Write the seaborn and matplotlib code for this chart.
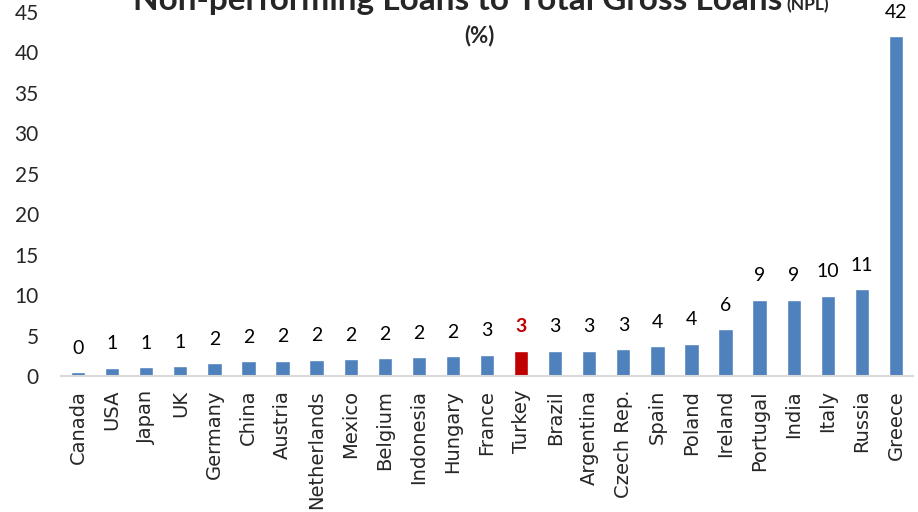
import matplotlib
matplotlib.use("Agg")
import matplotlib.pyplot as plt
import seaborn as sns

countries = ["Canada", "USA", "Japan", "UK", "Germany", "China", "Austria",
             "Netherlands", "Mexico", "Belgium", "Indonesia", "Hungary",
             "France", "Turkey", "Brazil", "Argentina", "Czech Rep.", "Spain",
             "Poland", "Ireland", "Portugal", "India", "Italy", "Russia", "Greece"]
npl = [0.46, 1.0, 1.1, 1.2, 1.6, 1.85, 1.9, 2.0, 2.05, 2.2, 2.3, 2.45,
       2.6, 3.1, 3.1, 3.1, 3.3, 3.7, 4.0, 5.8, 9.4, 9.4, 9.9, 10.7, 42.0]
highlight = "Turkey"

BLUE = "#4F81BD"
RED = "#C00000"

sns.set_style("white")
plt.rcParams["font.family"] = ["Lato", "DejaVu Sans"]

fig = plt.figure(figsize=(9.18, 5.12), dpi=100)
ax = fig.add_axes([61 / 918, 1 - 376 / 512, 852 / 918, 364 / 512])

palette = {c: (RED if c == highlight else BLUE) for c in countries}
sns.barplot(x=countries, y=npl, hue=countries, palette=palette, legend=False,
            width=0.42, saturation=1, ax=ax)

for i, (c, v) in enumerate(zip(countries, npl)):
    hot = c == highlight
    ax.annotate(f"{round(v):d}", (i, v), xytext=(0, 24), textcoords="offset pixels",
                ha="center", va="center", fontsize=14,
                color=RED if hot else "black", fontweight="bold" if hot else "normal")

ax.set_ylim(0, 45)
ax.set_yticks(range(0, 46, 5))
ax.set_xlim(-0.5, len(countries) - 0.5)
ax.tick_params(axis="y", labelsize=15, length=0, pad=16)
ax.tick_params(axis="x", labelsize=14, length=0, pad=10, labelrotation=90)
for lab in ax.get_xticklabels():
    lab.set_fontfamily("DejaVu Sans")
sns.despine(ax=ax, left=True)
ax.spines["bottom"].set_color("#D9D9D9")
ax.spines["bottom"].set_linewidth(1.5)

# title sits partly above the top edge, as in the source image
fig.text(782 / 918, 1 - 10 / 512, "Non-performing Loans to Total Gross Loans",
         ha="right", va="baseline", fontsize=24, fontweight="bold")
fig.text(786 / 918, 1 - 10 / 512, "(NPL)", ha="left", va="baseline",
         fontsize=12.5, fontweight="bold")
fig.text(479 / 918, 1 - 36 / 512, "(%)", ha="center", va="center",
         fontsize=16, fontweight="bold")

fig.savefig("out.png", dpi=100)
